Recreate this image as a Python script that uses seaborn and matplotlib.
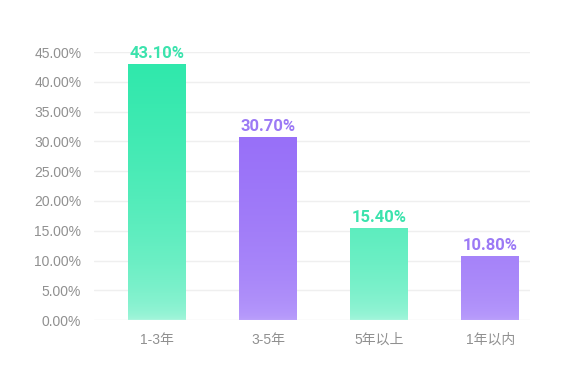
import matplotlib
matplotlib.use("Agg")
from matplotlib import pyplot as plt
from matplotlib.colors import LinearSegmentedColormap
import numpy as np
import pandas as pd
import seaborn as sns

# data
categories = ["1-3年", "3-5年", "5年以上", "1年以内"]
shares = [43.10, 30.70, 15.40, 10.80]
yticks = [0, 5, 10, 15, 20, 25, 30, 35, 40, 45]

df = pd.DataFrame({"group": categories, "share": shares})

sns.set_theme(style="white")
plt.rcParams["font.family"] = ["Liberation Sans", "Noto Sans CJK SC", "DejaVu Sans"]

green_top, green_bottom = "#30E8AC", "#ABF6DE"
purple_top, purple_bottom = "#9870F8", "#BCA2FB"
tops = [green_top, purple_top, green_top, purple_top]
bottoms = [green_bottom, purple_bottom, green_bottom, purple_bottom]
label_colors = ["#3BE3AD", "#9C7AF5", "#3BE3AD", "#9C7AF5"]

fig = plt.figure(figsize=(5.72, 3.81), dpi=100)
ax = fig.add_axes([0.164, 0.16, 0.763, 0.703])

sns.barplot(data=df, x="group", y="share", width=0.52, color="white",
            edgecolor="none", ax=ax)

# gradient is shared by bars of the same colour (tallest bar = full colour)
group_max = {green_top: max(shares[0::2]), purple_top: max(shares[1::2])}
for patch, top, bottom in zip(ax.patches, tops, bottoms):
    x0, y0 = patch.get_x(), patch.get_y()
    w, h = patch.get_width(), patch.get_height()
    cmap = LinearSegmentedColormap.from_list("g", [bottom, top])
    frac = h / group_max[top]
    grad = (np.linspace(0, frac, 256)) ** 0.45
    img = ax.imshow(grad.reshape(-1, 1), cmap=cmap, vmin=0, vmax=1, aspect="auto",
                    origin="lower", extent=[x0, x0 + w, y0, y0 + h], zorder=2)
    img.set_clip_path(patch)

for i, (v, c) in enumerate(zip(shares, label_colors)):
    ax.text(i, v + 0.5, f"{v:.2f}%", ha="center", va="bottom", color=c,
            fontsize=12, fontweight="bold", family=["Roboto", "DejaVu Sans"])

ax.set_xlim(-0.57, 3.36)
ax.set_ylim(0, 45)
ax.set_yticks(yticks)
ax.set_yticklabels([f"{t:.2f}%" for t in yticks])
ax.yaxis.grid(True, color="#EFEFEF", linewidth=1)
ax.set_axisbelow(True)
for s in ax.spines.values():
    s.set_visible(False)
ax.tick_params(axis="both", length=0, colors="#909090", labelsize=10)
ax.tick_params(axis="x", pad=9)
ax.tick_params(axis="y", pad=9)
ax.set_xlabel("")
ax.set_ylabel("")

fig.savefig("out.png", dpi=100, facecolor="white")
